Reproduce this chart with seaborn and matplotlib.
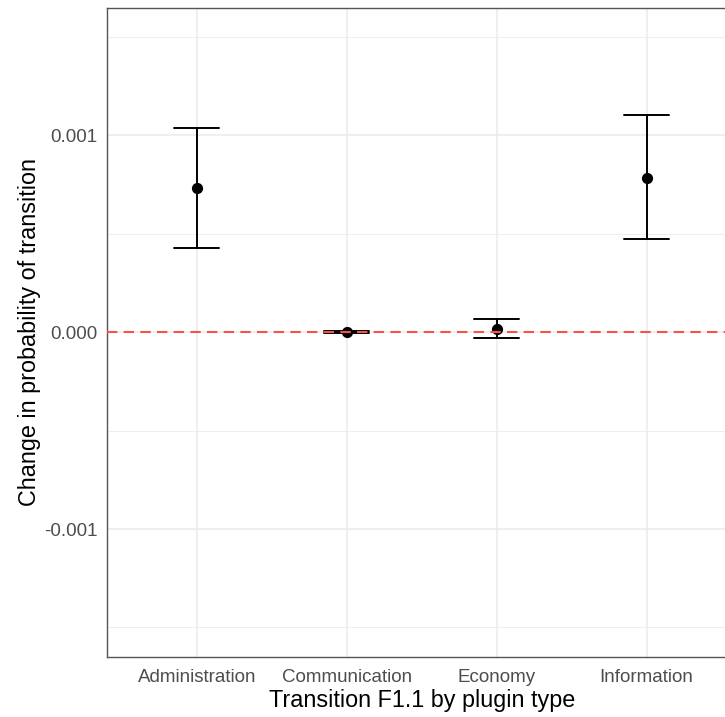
import numpy as np
import pandas as pd
import matplotlib
matplotlib.use("Agg")
import matplotlib.pyplot as plt
import seaborn as sns

categories = ["Administration", "Communication", "Economy", "Information"]
means = [0.000731, 0.000001, 0.000019, 0.000785]
lowers = [0.000427, -0.000002, -0.000031, 0.000473]
uppers = [0.001037, 0.000004, 0.000068, 0.001103]
yticks = [-0.001, 0.0, 0.001]
yticklabels = ["-0.001", "0.000", "0.001"]
xlabel = "Transition F1.1 by plugin type"
ylabel = "Change in probability of transition"

# long-form table: median of (lower, mean, upper) = mean; 100% interval = [lower, upper]
rows = []
for c, lo, m, hi in zip(categories, lowers, means, uppers):
    for v in (lo, m, hi):
        rows.append({"type": c, "value": v})
df = pd.DataFrame(rows)

sns.set_style("white")
plt.rcParams["font.family"] = ["Liberation Sans", "DejaVu Sans"]

fig = plt.figure(figsize=(7.25, 7.17), dpi=100)
ax = fig.add_axes([107 / 725, 1 - 657 / 717, (736.6 - 107) / 725, (657 - 7.5) / 717])

sns.pointplot(data=df, x="type", y="value", order=categories,
              estimator="median", errorbar=("pi", 100), capsize=0.3,
              linestyle="none", color="black", markersize=7,
              linewidth=1.4, err_kws={"linewidth": 1.4}, ax=ax, zorder=3)

ax.axhline(0, color="#f75252", linestyle=(0, (5, 3)), linewidth=1.5, zorder=4)

ax.set_xlim(-0.6, 3.6)
ax.set_ylim(-0.00165, 0.00165)
ax.set_yticks(yticks)
ax.set_yticklabels(yticklabels)
ax.set_yticks([-0.0015, -0.0005, 0.0005, 0.0015], minor=True)

ax.grid(True, which="major", color="#EBEBEB", linewidth=1.1, zorder=0)
ax.grid(True, which="minor", axis="y", color="#EBEBEB", linewidth=0.6, zorder=0)
ax.set_axisbelow(True)

for s in ax.spines.values():
    s.set_color("#555555")
    s.set_linewidth(1.0)

ax.tick_params(axis="both", which="major", length=3.2, width=1.0, color="#333333",
               labelcolor="#4D4D4D", labelsize=13.5, pad=3.5)
ax.tick_params(axis="x", which="major", pad=5.5)
ax.tick_params(axis="both", which="minor", length=0)

ax.set_xlabel(xlabel, fontsize=16.8, color="black", labelpad=2)
ax.set_ylabel(ylabel, fontsize=16.8, color="black", labelpad=2)

fig.savefig("out.png", dpi=100)
